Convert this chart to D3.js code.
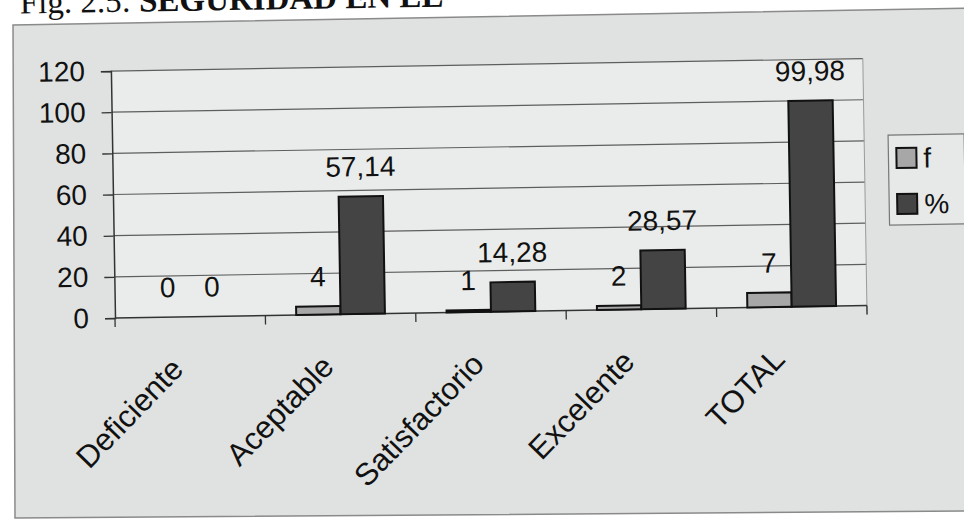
<!DOCTYPE html>
<html>
<head>
<meta charset="utf-8">
<script src="https://cdn.jsdelivr.net/npm/d3@7"></script>
<style>
  html, body { margin: 0; padding: 0; background: #ffffff; }
  svg { display: block; }
</style>
</head>
<body>
<svg id="chart" width="964" height="519"></svg>
<script>
// Data
const categories = ["Deficiente", "Aceptable", "Satisfactorio", "Excelente", "TOTAL"];
const seriesKeys = ["f", "%"];
const fValues = [0, 4, 1, 2, 7];
const pctValues = [0, 57.14, 14.28, 28.57, 99.98];
const yTicks = [0, 20, 40, 60, 80, 100, 120];
const titleLead = "Fig. 2.5: ";
const titleMain = "SEGURIDAD EN EL";

const seriesValues = { "f": fValues, "%": pctValues };
const seriesFill = { "f": "#a7a7a7", "%": "#444444" };

const FONT = "'Liberation Sans', Arial, sans-serif";
const svg = d3.select("#chart");

// Chart area background (slightly skewed sheet)
svg.append("polygon")
  .attr("points", "13,25 980,8 980,511 15,518")
  .attr("fill", "#dfe2e1")
  .attr("stroke", "#8a8a8a")
  .attr("stroke-width", 1.5);

// Everything else sits in a slightly tilted group
const g = svg.append("g").attr("transform", "rotate(-0.95,115,318)");

// Title
const title = g.append("text")
  .attr("x", 25).attr("y", 12)
  .attr("font-family", "'Liberation Serif', 'Times New Roman', serif")
  .attr("font-size", 33)
  .attr("fill", "#111");
title.append("tspan").text(titleLead);
title.append("tspan").attr("font-weight", "bold").text(titleMain);

// Scales
const x = d3.scaleBand().domain(categories).range([115, 867]).paddingInner(0).paddingOuter(0);
const bw = x.bandwidth();
const x1 = d3.scaleBand().domain(seriesKeys).range([bw * 0.205, bw * 0.795]);
const y = d3.scaleLinear().domain([0, 120]).range([318, 71]);

// Plot area
g.append("rect")
  .attr("x", x.range()[0]).attr("y", y(120))
  .attr("width", x.range()[1] - x.range()[0]).attr("height", y(0) - y(120))
  .attr("fill", "#e9ecea");

// Gridlines
g.append("g").selectAll("line")
  .data(yTicks.filter(t => t > 0))
  .join("line")
  .attr("x1", x.range()[0]).attr("x2", x.range()[1])
  .attr("y1", d => y(d)).attr("y2", d => y(d))
  .attr("stroke", "#5e5e5e").attr("stroke-width", 1.2);

// Plot area right border (light)
g.append("line")
  .attr("x1", x.range()[1]).attr("x2", x.range()[1])
  .attr("y1", y(120)).attr("y2", y(0) + 9)
  .attr("stroke", "#9a9a9a").attr("stroke-width", 1);

// Y axis
const yAxis = g.append("g")
  .attr("transform", `translate(${x.range()[0]},0)`)
  .call(d3.axisLeft(y).tickValues(yTicks).tickSize(10).tickPadding(16).tickFormat(d3.format("d")));
yAxis.select(".domain").attr("stroke", "#333").attr("stroke-width", 1.5);
yAxis.selectAll(".tick line").attr("stroke", "#333").attr("stroke-width", 1.3);
yAxis.selectAll(".tick text")
  .attr("font-family", FONT).attr("font-size", 28).attr("fill", "#111");

// X axis line and tick marks at category boundaries
g.append("line")
  .attr("x1", x.range()[0]).attr("x2", x.range()[1])
  .attr("y1", y(0)).attr("y2", y(0))
  .attr("stroke", "#333").attr("stroke-width", 1.5);
const boundaries = categories.map(c => x(c)).concat([x.range()[1]]);
g.append("g").selectAll("line")
  .data(boundaries)
  .join("line")
  .attr("x1", d => d).attr("x2", d => d)
  .attr("y1", y(0)).attr("y2", y(0) + 9)
  .attr("stroke", "#333").attr("stroke-width", 1.3);

// Bars
const barData = [];
categories.forEach((c, i) => {
  seriesKeys.forEach(k => barData.push({ cat: c, key: k, value: seriesValues[k][i] }));
});

g.append("g").selectAll("rect")
  .data(barData.filter(d => d.value > 0))
  .join("rect")
  .attr("x", d => x(d.cat) + x1(d.key))
  .attr("y", d => y(d.value))
  .attr("width", x1.bandwidth())
  .attr("height", d => y(0) - y(d.value))
  .attr("fill", d => seriesFill[d.key])
  .attr("stroke", "#111")
  .attr("stroke-width", 2);

// Value labels
const locale = d3.formatLocale({ decimal: ",", thousands: ".", grouping: [3], currency: ["", ""] });
const fmt = locale.format(".2~f");
g.append("g").selectAll("text")
  .data(barData)
  .join("text")
  .attr("x", d => x(d.cat) + x1(d.key) + x1.bandwidth() / 2)
  .attr("y", d => y(d.value) - 20)
  .attr("text-anchor", "middle")
  .attr("font-family", FONT).attr("font-size", 28).attr("fill", "#111")
  .text(d => fmt(d.value));

// Category labels, rotated
g.append("g").selectAll("text")
  .data(categories)
  .join("text")
  .attr("transform", d => `translate(${x(d) + bw / 2 - 6},${y(0) + 54}) rotate(-45)`)
  .attr("text-anchor", "end")
  .attr("font-family", FONT).attr("font-size", 31).attr("fill", "#111")
  .text(d => d);

// Legend
const legend = g.append("g").attr("transform", "translate(891,148)");
legend.append("rect")
  .attr("width", 76).attr("height", 90)
  .attr("fill", "#e6e9e8").attr("stroke", "#777").attr("stroke-width", 1.2);
const items = legend.selectAll("g.item")
  .data(seriesKeys)
  .join("g")
  .attr("class", "item")
  .attr("transform", (d, i) => `translate(8,${13 + i * 46})`);
items.append("rect")
  .attr("width", 20).attr("height", 20)
  .attr("fill", d => seriesFill[d])
  .attr("stroke", "#111").attr("stroke-width", 2);
items.append("text")
  .attr("x", 27).attr("y", 20)
  .attr("font-family", FONT).attr("font-size", 28).attr("fill", "#111")
  .text(d => d);
</script>
</body>
</html>
